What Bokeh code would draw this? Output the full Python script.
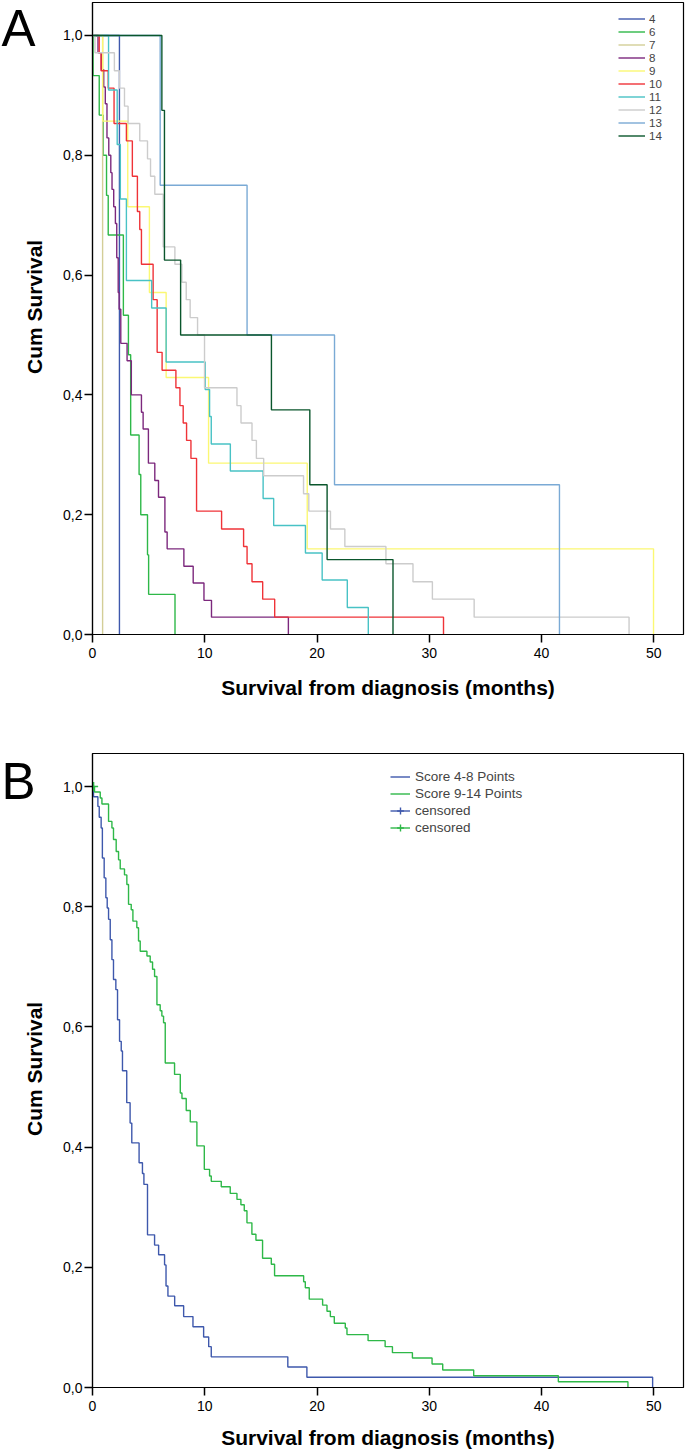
from math import pi
from bokeh.plotting import figure
from bokeh.models import (ColumnDataSource, Legend, LegendItem, FixedTicker,
                          CustomJSTickFormatter, Range1d)
from bokeh.core.properties import value
from bokeh.layouts import column, row
from bokeh.embed import file_html
from bokeh.resources import INLINE

FONT = "Liberation Sans"

# ---------------- Panel A data (score groups) ----------------
g4_t = [0, 2.4]
g4_s = [1, 0]
g6_t = [0, 0.05, 0.6, 0.95, 1.25, 1.4, 2.75, 3.2, 3.4, 4.15, 4.3, 4.9, 5.0, 7.35]
g6_s = [1, 0.933, 0.867, 0.8, 0.733, 0.667, 0.533, 0.467, 0.333, 0.267, 0.2, 0.133, 0.067, 0]
g7_t = [0, 0.9]
g7_s = [1, 0]
g8_t = [0, 0.49, 0.79, 1.0, 1.14, 1.29, 1.45, 1.63, 1.74, 1.89, 2.04, 2.16, 2.29, 2.37, 2.52,
        3.08, 3.46, 4.36, 4.51, 4.98, 5.55, 5.88, 6.45, 6.65, 8.14, 8.97, 9.93, 10.6, 17.45]
g8_s = [1, 0.971, 0.943, 0.914, 0.886, 0.829, 0.8, 0.771, 0.743, 0.714, 0.686, 0.629, 0.571, 0.543, 0.486,
        0.457, 0.4, 0.371, 0.343, 0.286, 0.257, 0.229, 0.171, 0.143, 0.114, 0.086, 0.057, 0.029, 0]
g9_t = [0, 0.91, 3.14, 5.07, 6.56, 10.34, 19.13, 49.98]
g9_s = [1, 0.857, 0.714, 0.571, 0.429, 0.286, 0.143, 0]
g10_t = [0, 0.6, 0.76, 1.4, 1.92, 3.02, 3.55, 4.0, 4.21, 4.36, 5.4, 5.76, 6.2, 7.43, 7.79, 8.08,
         8.38, 8.77, 9.27, 11.5, 13.46, 13.77, 14.21, 15.16, 16.23, 31.27]
g10_s = [1, 0.971, 0.941, 0.912, 0.853, 0.824, 0.765, 0.706, 0.676, 0.618, 0.559, 0.471, 0.441, 0.412,
         0.382, 0.353, 0.324, 0.294, 0.206, 0.176, 0.147, 0.118, 0.088, 0.059, 0.029, 0]
g11_t = [0, 1.43, 2.2, 2.48, 3.02, 5.27, 6.56, 10.04, 10.43, 10.58, 12.28, 15.2, 16.14, 18.97, 20.46, 22.7, 24.57]
g11_s = [1, 0.909, 0.818, 0.727, 0.591, 0.545, 0.455, 0.409, 0.364, 0.318, 0.273, 0.227, 0.182, 0.136, 0.091, 0.045, 0]
g12_t = [0, 0.22, 1.95, 2.4, 2.85, 3.17, 4.21, 4.9, 5.17, 5.55, 6.3, 7.34, 7.96, 8.35, 8.7, 9.36, 9.98,
         12.87, 13.23, 14.21, 14.6, 15.25, 18.8, 19.27, 21.2, 22.48, 26.14, 28.55, 30.28, 34.0, 47.8]
g12_s = [1, 0.971, 0.941, 0.912, 0.882, 0.853, 0.824, 0.794, 0.765, 0.735, 0.647, 0.618, 0.588, 0.559,
         0.529, 0.5, 0.412, 0.382, 0.353, 0.324, 0.294, 0.265, 0.235, 0.206, 0.176, 0.147, 0.118, 0.088,
         0.059, 0.029, 0]
g13_t = [0, 6.03, 13.77, 21.56, 41.6]
g13_s = [1, 0.75, 0.5, 0.25, 0]
g14_t = [0, 6.18, 6.41, 7.85, 15.94, 19.36, 20.9, 26.77]
g14_s = [1, 0.875, 0.625, 0.5, 0.375, 0.25, 0.125, 0]

groups_A = ["4", "6", "7", "8", "9", "10", "11", "12", "13", "14"]
times_A = [g4_t, g6_t, g7_t, g8_t, g9_t, g10_t, g11_t, g12_t, g13_t, g14_t]
surv_A = [g4_s, g6_s, g7_s, g8_s, g9_s, g10_s, g11_s, g12_s, g13_s, g14_s]
colors_A = ["#3E58AC", "#2EB848", "#D3CE97", "#7C287D", "#FBF873",
            "#EF3338", "#48C2C5", "#CCCCCC", "#7AAAD5", "#0A562C"]

# ---------------- Panel B data (score classes) ----------------
lo_t = [0, 0.09, 0.48, 0.6, 0.77, 0.88, 1.04, 1.19, 1.31, 1.43, 1.58, 1.73, 1.87, 2.08, 2.23, 2.41, 2.56,
        2.67, 3.05, 3.35, 3.5, 4.15, 4.45, 4.58, 4.9, 5.53, 5.89, 6.42, 6.55, 6.72, 7.32, 8.12, 8.95, 9.9,
        10.35, 10.58, 17.4, 19.1, 49.9]
lo_s = [1, 0.983, 0.967, 0.949, 0.931, 0.881, 0.848, 0.815, 0.798, 0.779, 0.745, 0.712, 0.679, 0.662,
        0.612, 0.576, 0.56, 0.527, 0.474, 0.44, 0.407, 0.374, 0.356, 0.338, 0.254, 0.237, 0.221, 0.204,
        0.169, 0.152, 0.136, 0.118, 0.101, 0.084, 0.068, 0.051, 0.034, 0.017, 0]
hi_t = [0, 0.18, 0.69, 0.84, 1.43, 1.73, 1.87, 2.11, 2.32, 2.47, 2.85, 3.06, 3.21, 3.45, 3.6, 3.95, 4.1,
        4.25, 4.85, 5.14, 5.35, 5.53, 5.74, 6.03, 6.18, 6.33, 6.48, 7.31, 7.82, 7.97, 8.35, 8.71, 9.3, 9.96,
        10.43, 10.58, 11.47, 12.27, 12.87, 13.22, 13.52, 13.76, 14.2, 14.56, 15.15, 15.93, 16.22, 18.81,
        18.96, 19.31, 20.5, 20.89, 21.19, 21.54, 22.52, 22.67, 24.55, 26.07, 26.72, 28.5, 30.25, 31.2,
        33.96, 41.5, 47.7]
hi_s = [1, 0.991, 0.981, 0.971, 0.942, 0.931, 0.912, 0.892, 0.878, 0.863, 0.853, 0.837, 0.804, 0.795,
        0.776, 0.765, 0.743, 0.726, 0.718, 0.708, 0.696, 0.684, 0.637, 0.627, 0.618, 0.607, 0.540, 0.521,
        0.490, 0.481, 0.461, 0.442, 0.402, 0.363, 0.352, 0.343, 0.334, 0.323, 0.313, 0.304, 0.294, 0.274,
        0.255, 0.245, 0.215, 0.205, 0.186, 0.176, 0.166, 0.147, 0.137, 0.127, 0.118, 0.107, 0.099, 0.088,
        0.078, 0.068, 0.058, 0.049, 0.039, 0.029, 0.0195, 0.0095, 0]
cens_lo_t, cens_lo_s = [0.0], [1.0]
cens_hi_t, cens_hi_s = [0.1], [1.0]
labels_B = ["Score 4-8 Points", "Score 9-14 Points", "censored", "censored"]
colors_B = ["#3E58AC", "#2EB848"]

x_ticks = [0, 10, 20, 30, 40, 50]
x_tick_labels = ["0", "10", "20", "30", "40", "50"]
y_ticks = [0.0, 0.2, 0.4, 0.6, 0.8, 1.0]
y_tick_labels = ["0,0", "0,2", "0,4", "0,6", "0,8", "1,0"]
x_title = "Survival from diagnosis (months)"
y_title = "Cum Survival"
panel_letters = ["A", "B"]
X_MAX = 52.65
Y_MAX = 1.055
SIDE_W = 46


def fmt(tick_vals, tick_labs):
    return CustomJSTickFormatter(args=dict(tv=tick_vals, tl=tick_labs),
                                 code="for (let i = 0; i < tv.length; i++) {"
                                      " if (Math.abs(tv[i] - tick) < 1e-9) return tl[i]; }"
                                      " return '';")


def side_fig(height, letter, letter_mid, label_start):
    """Left strip holding the panel letter and the rotated y-axis title
    (positions in pixels from the strip's top)."""
    s = figure(width=SIDE_W, height=height, output_backend="svg", toolbar_location=None,
               x_range=Range1d(0, SIDE_W), y_range=Range1d(height, 0),
               x_axis_location=None, y_axis_location=None, min_border=0,
               min_border_left=0, min_border_right=0, min_border_top=0, min_border_bottom=0,
               outline_line_color=None, background_fill_color="white",
               border_fill_color="white")
    s.grid.visible = False
    s.text(x=[1], y=[letter_mid], text=[letter], text_font=value(FONT),
           text_font_size=value("51px"), text_color="black",
           text_baseline="middle", text_align="left")
    s.text(x=[33.5], y=[label_start], text=[y_title], angle=pi / 2,
           text_font=value(FONT), text_font_size=value("21px"), text_font_style="bold",
           text_color="black", text_baseline="middle", text_align="left")
    return s


def make_fig(height, b_top, b_bottom, title_standoff):
    p = figure(width=685 - SIDE_W, height=height, output_backend="svg", toolbar_location=None,
               x_range=Range1d(0, X_MAX), y_range=Range1d(0, Y_MAX),
               min_border_left=92 - SIDE_W, min_border_right=2, min_border_top=b_top,
               min_border_bottom=b_bottom, background_fill_color="white",
               border_fill_color="white")
    p.xgrid.visible = False
    p.ygrid.visible = False
    p.outline_line_color = "black"
    p.outline_line_width = 1.2
    p.xaxis.ticker = FixedTicker(ticks=x_ticks)
    p.yaxis.ticker = FixedTicker(ticks=y_ticks)
    p.xaxis.formatter = fmt(x_ticks, x_tick_labels)
    p.yaxis.formatter = fmt(y_ticks, y_tick_labels)
    p.axis.minor_tick_line_color = None
    p.axis.major_tick_out = 8
    p.axis.major_tick_in = 0
    p.axis.major_tick_line_width = 1.5
    p.axis.major_tick_line_color = "black"
    p.axis.axis_line_color = "black"
    p.axis.axis_line_width = 1.2
    p.axis.major_label_text_font = FONT
    p.axis.major_label_text_font_size = "14px"
    p.axis.major_label_text_color = "black"
    p.xaxis.axis_label_text_font = FONT
    p.xaxis.axis_label_text_font_size = "21px"
    p.xaxis.axis_label_text_font_style = "bold"
    p.xaxis.axis_label_text_color = "black"
    p.xaxis.axis_label = x_title
    p.xaxis.major_label_standoff = 5
    p.yaxis.major_label_standoff = 2
    p.xaxis.axis_label_standoff = title_standoff
    return p


# ---------------- Panel A ----------------
pA = make_fig(740, 2, 106, 15)
itemsA = []
for name, t, s, c in zip(groups_A, times_A, surv_A, colors_A):
    src = ColumnDataSource(dict(t=t, s=s))
    r = pA.step(x="t", y="s", source=src, mode="after", line_color=c, line_width=1.4)
    itemsA.append(LegendItem(label=name, renderers=[r]))
legA = Legend(items=itemsA, location=(526, 492), border_line_color=None,
              background_fill_alpha=0, padding=2, spacing=0, margin=0,
              label_text_font=FONT, label_text_font_size="11.6px",
              glyph_width=27, glyph_height=13, label_height=13, label_standoff=4)
pA.add_layout(legA)
sA = side_fig(740, panel_letters[0], 31, 435)

# ---------------- Panel B ----------------
pB = make_fig(711, 13, 64, 12)
src_lo = ColumnDataSource(dict(t=lo_t, s=lo_s))
src_hi = ColumnDataSource(dict(t=hi_t, s=hi_s))
r_lo = pB.step(x="t", y="s", source=src_lo, mode="after", line_color=colors_B[0], line_width=1.4)
r_hi = pB.step(x="t", y="s", source=src_hi, mode="after", line_color=colors_B[1], line_width=1.4)
r_clo = pB.scatter(x="t", y="s", source=ColumnDataSource(dict(t=cens_lo_t, s=cens_lo_s)),
                   marker="cross", size=0, line_color=colors_B[0], line_width=1.4)
r_chi = pB.scatter(x="t", y="s", source=ColumnDataSource(dict(t=cens_hi_t, s=cens_hi_s)),
                   marker="cross", size=9, line_color=colors_B[1], line_width=1.4)
itemsB = [LegendItem(label=labels_B[0], renderers=[r_lo]),
          LegendItem(label=labels_B[1], renderers=[r_hi]),
          LegendItem(label=labels_B[2], renderers=[r_lo, r_clo]),
          LegendItem(label=labels_B[3], renderers=[r_hi, r_chi])]
legB = Legend(items=itemsB, location=(298, 551), border_line_color=None,
              background_fill_alpha=0, padding=2, spacing=0, margin=0,
              label_text_font=FONT, label_text_font_size="13.5px",
              glyph_width=20, glyph_height=17, label_height=17, label_standoff=5)
pB.add_layout(legB)
sB = side_fig(711, panel_letters[1], 31, 429)

layout = column(row(sA, pA, spacing=0), row(sB, pB, spacing=0), spacing=0)
open("out.html", "w").write(file_html(layout, INLINE))
